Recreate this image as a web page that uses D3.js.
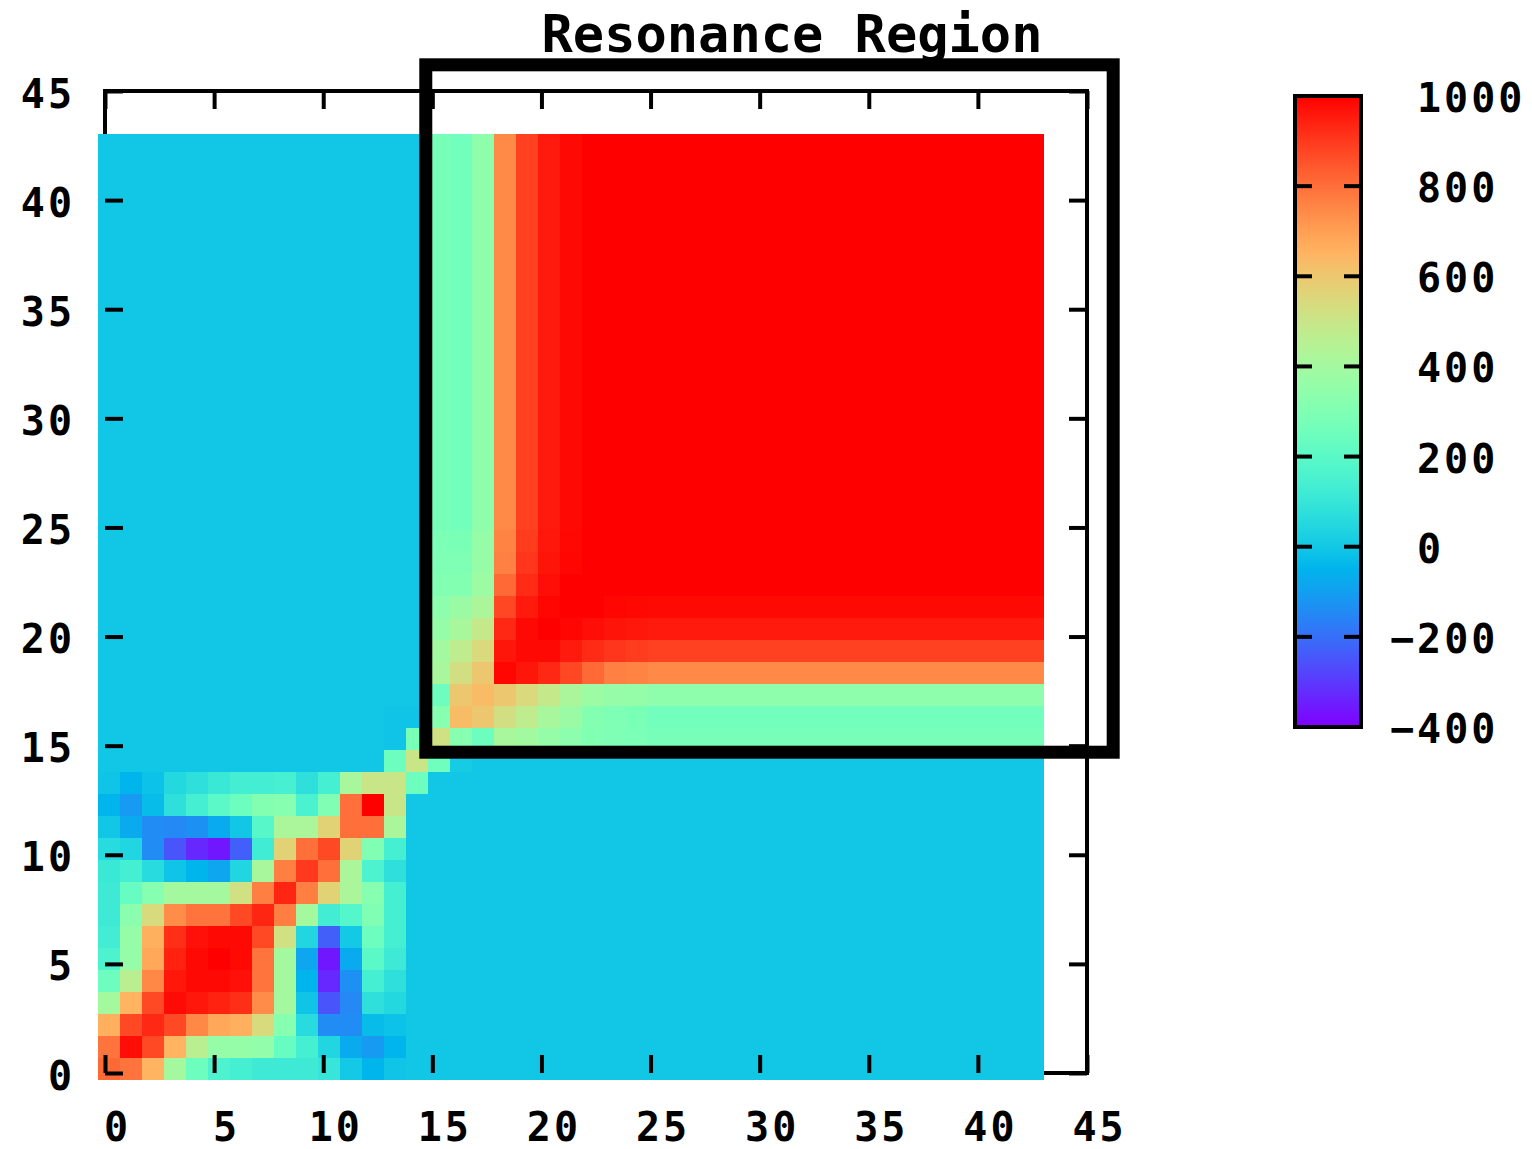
<!DOCTYPE html>
<html>
<head>
<meta charset="utf-8">
<script src="https://cdn.jsdelivr.net/npm/d3@7"></script>
<style>
body { margin: 0; background: #fff; }
text { font-family: "DejaVu Sans Mono", monospace; font-weight: bold; fill: #000; }
</style>
</head>
<body>
<script>
var title = 'Resonance Region';
var nCells = 43;
var axisTicks = [0, 5, 10, 15, 20, 25, 30, 35, 40, 45];
var colorTicks = [-400, -200, 0, 200, 400, 600, 800, 1000];
var background = 0;

// lower-left block, rows 0..14 from the bottom, cols 0..14
var lowBlock = [
    [810, 790, 650, 400, 250, 160, 140, 120, 120, 120, 100, 5, -50, -10, 0],
    [790, 975, 870, 650, 460, 360, 360, 350, 230, 140, 40, -75, -110, -50, 0],
    [660, 870, 930, 870, 750, 680, 660, 540, 320, 60, -140, -140, -30, -15, 0],
    [400, 650, 870, 980, 960, 940, 920, 740, 400, -10, -250, -150, 75, 50, 0],
    [250, 460, 750, 960, 985, 985, 970, 790, 400, -50, -330, -130, 140, 75, 0],
    [160, 360, 680, 940, 985, 1000, 985, 790, 400, -85, -360, -75, 200, 120, 0],
    [130, 360, 660, 920, 970, 985, 985, 870, 520, 40, -230, 5, 250, 140, 0],
    [120, 330, 540, 740, 790, 790, 870, 935, 770, 400, 130, 180, 300, 140, 0],
    [120, 230, 320, 400, 400, 400, 520, 770, 935, 770, 570, 420, 320, 140, 0],
    [110, 140, 60, -10, -50, -85, 40, 410, 770, 900, 800, 420, 160, 75, 0],
    [60, 40, -140, -250, -330, -360, -230, 125, 570, 800, 870, 570, 300, 140, 0],
    [0, -75, -140, -150, -130, -75, 0, 190, 420, 420, 570, 800, 800, 420, 0],
    [-50, -110, -30, 75, 140, 200, 250, 310, 320, 155, 300, 800, 1000, 500, 0],
    [-10, -50, -15, 50, 75, 110, 135, 135, 145, 75, 140, 410, 500, 500, 250],
    [0, 0, 0, 0, 0, 0, 0, 0, 0, 0, 0, 0, 0, 250, 500]
];

// odd cells where the two blocks touch: [row, col, value]
var bridge = [[14, 15, 255], [15, 14, 280], [14, 16, 10], [16, 14, -10], [15, 13, -10], [16, 13, -10]];

// upper-right corner, rows/cols 15..24
var highCorner = [
    [520, 320, 250, 415, 395, 360, 335, 305, 295, 290],
    [320, 630, 600, 525, 475, 415, 375, 310, 295, 285],
    [250, 600, 630, 600, 545, 490, 420, 380, 365, 360],
    [415, 525, 600, 990, 962, 930, 875, 810, 765, 758],
    [395, 475, 545, 962, 985, 985, 955, 925, 905, 895],
    [360, 415, 490, 930, 985, 1000, 990, 975, 965, 960],
    [335, 375, 420, 875, 955, 990, 1000, 1000, 990, 988],
    [305, 310, 380, 810, 925, 975, 1000, 1000, 1000, 1000],
    [295, 295, 365, 765, 905, 965, 990, 1000, 1000, 1000],
    [290, 285, 360, 758, 895, 960, 988, 1000, 1000, 1000]
];
// row/col 15..24 value once the other index is past 24
var highEdge = [278, 262, 340, 748, 885, 955, 984, 1000, 1000, 1000];
var highFill = 1000;

var boxLo = 14.7, boxHi = 46.2;

// build the 43x43 grid
var grid = [];
for (var r = 0; r < nCells; r++) {
    for (var c = 0; c < nCells; c++) {
        var v = background;
        if (r < 15 && c < 15) {
            v = lowBlock[r][c];
        } else if (r >= 15 && c >= 15) {
            var a = Math.min(r, c), b = Math.max(r, c);
            if (b <= 24) v = highCorner[r - 15][c - 15];
            else if (a <= 24) v = highEdge[a - 15];
            else v = highFill;
        }
        grid.push({row: r, col: c, value: v});
    }
}
bridge.forEach(function(d) {
    grid[d[0] * nCells + d[1]].value = d[2];
});

// matplotlib-style rainbow
function rainbow(t) {
    var r = Math.min(1, Math.abs(2 * t - 0.5)),
        g = Math.sin(Math.PI * t),
        b = Math.max(0, Math.cos(Math.PI * t / 2));
    return d3.rgb(255 * r, 255 * g, 255 * b).formatHex();
}
var color = d3.scaleSequential(rainbow).domain([-400, 1000]);

var svgWidth = 1532, svgHeight = 1149;
var xScale = d3.scaleLinear().domain([0, 45]).range([105, 1087]);
var yScale = d3.scaleLinear().domain([0, 45]).range([1073, 91]);
var cScale = d3.scaleLinear().domain([-400, 1000]).range([727, 96]);

var cellLo = -0.3, cellHi = 43.03;
var cellW = (cellHi - cellLo) / nCells;

var svg = d3.select('body').append('svg')
    .attr('width', svgWidth)
    .attr('height', svgHeight);

// frame
svg.append('rect')
    .attr('x', xScale(0)).attr('y', yScale(45))
    .attr('width', xScale(45) - xScale(0))
    .attr('height', yScale(0) - yScale(45))
    .attr('fill', 'none').attr('stroke', '#000').attr('stroke-width', 4);

// heatmap
svg.append('g').selectAll('rect')
    .data(grid)
    .enter().append('rect')
    .attr('x', function(d) { return xScale(cellLo + d.col * cellW); })
    .attr('width', function(d) { return xScale(cellLo + (d.col + 1) * cellW) - xScale(cellLo + d.col * cellW) + 0.4; })
    .attr('y', function(d) { return yScale(cellLo + (d.row + 1) * cellW); })
    .attr('height', function(d) { return yScale(cellLo + d.row * cellW) - yScale(cellLo + (d.row + 1) * cellW) + 0.4; })
    .attr('fill', function(d) { return color(d.value); })
    .attr('shape-rendering', 'crispEdges');

// axes, ticks pointing inward
function styleAxis(g) {
    g.select('.domain').remove();
    g.selectAll('line').attr('stroke', '#000').attr('stroke-width', 4);
    g.selectAll('text').attr('font-size', 40).attr('letter-spacing', 3)
        .attr('font-family', '"DejaVu Sans Mono", monospace').attr('font-weight', 'bold');
}

svg.append('g')
    .attr('transform', 'translate(0,' + yScale(0) + ')')
    .call(d3.axisBottom(xScale).tickValues(axisTicks).tickSize(-18).tickPadding(40))
    .call(styleAxis)
    .selectAll('text').attr('dx', 12);

svg.append('g')
    .attr('transform', 'translate(0,' + yScale(45) + ')')
    .call(d3.axisTop(xScale).tickValues(axisTicks).tickSize(-18).tickFormat(''))
    .call(styleAxis);

svg.append('g')
    .attr('transform', 'translate(' + xScale(0) + ',0)')
    .call(d3.axisLeft(yScale).tickValues(axisTicks).tickSize(-18).tickPadding(30))
    .call(styleAxis)
    .selectAll('text').attr('dy', 16);

svg.append('g')
    .attr('transform', 'translate(' + xScale(45) + ',0)')
    .call(d3.axisRight(yScale).tickValues(axisTicks).tickSize(-18).tickFormat(''))
    .call(styleAxis);

// resonance box
svg.append('rect')
    .attr('x', xScale(boxLo)).attr('y', yScale(boxHi))
    .attr('width', xScale(boxHi) - xScale(boxLo))
    .attr('height', yScale(boxLo) - yScale(boxHi))
    .attr('fill', 'none').attr('stroke', '#000').attr('stroke-width', 13);

// title
svg.append('text')
    .attr('x', 792).attr('y', 52)
    .attr('text-anchor', 'middle')
    .attr('font-size', 52)
    .text(title);

// colour box
var cbX = 1295, cbW = 66;
var grad = svg.append('defs').append('linearGradient')
    .attr('id', 'cbgrad')
    .attr('x1', 0).attr('y1', 1).attr('x2', 0).attr('y2', 0);
grad.selectAll('stop')
    .data(d3.range(0, 1.0001, 1 / 40))
    .enter().append('stop')
    .attr('offset', function(t) { return t; })
    .attr('stop-color', function(t) { return rainbow(t); });

svg.append('rect')
    .attr('x', cbX).attr('y', cScale(1000))
    .attr('width', cbW).attr('height', cScale(-400) - cScale(1000))
    .attr('fill', 'url(#cbgrad)')
    .attr('stroke', '#000').attr('stroke-width', 4);

var cb = svg.append('g');
cb.selectAll('.tl')
    .data(colorTicks)
    .enter().append('line')
    .attr('x1', cbX).attr('x2', cbX + 17)
    .attr('y1', function(d) { return cScale(d); })
    .attr('y2', function(d) { return cScale(d); })
    .attr('stroke', '#000').attr('stroke-width', 4);
cb.selectAll('.tr')
    .data(colorTicks)
    .enter().append('line')
    .attr('x1', cbX + cbW - 17).attr('x2', cbX + cbW)
    .attr('y1', function(d) { return cScale(d); })
    .attr('y2', function(d) { return cScale(d); })
    .attr('stroke', '#000').attr('stroke-width', 4);
cb.selectAll('text')
    .data(colorTicks)
    .enter().append('text')
    .attr('x', function(d) { return d < 0 ? 1390 : 1417; })
    .attr('y', function(d) { return cScale(d) + 16; })
    .attr('font-size', 40)
    .attr('letter-spacing', 3)
    .text(function(d) { return d < 0 ? '\u2212' + Math.abs(d) : d; });
</script>
</body>
</html>
